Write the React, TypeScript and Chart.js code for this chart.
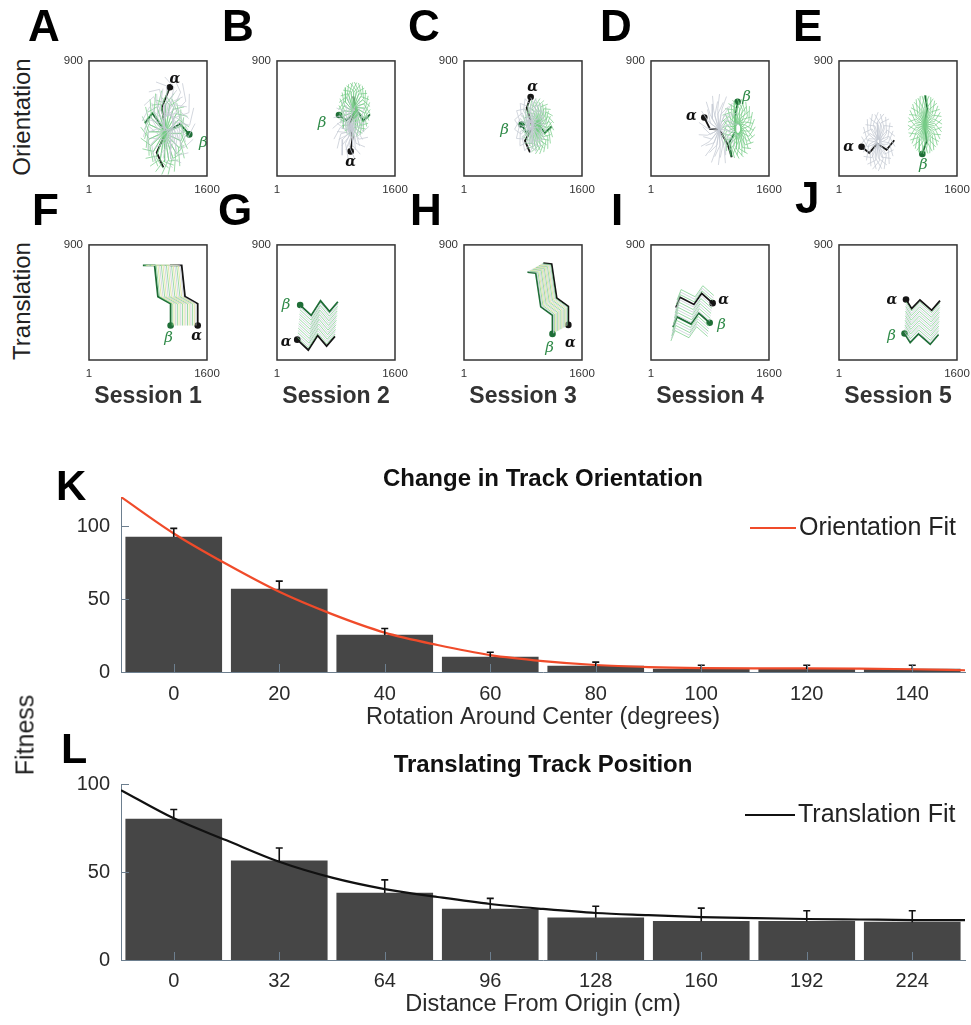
import React, { useEffect, useRef } from 'react';
import { Chart, registerables } from 'chart.js';

Chart.register(...registerables);

type Pt = [number, number];

const FONT = '"Liberation Sans", Arial, Helvetica, sans-serif';
const SERIF = '"DejaVu Serif", "Liberation Serif", serif';

// ---------------- small track panels ----------------
const PANEL_X_TICKS = [1, 1600];
const PANEL_Y_TICKS = [900];
const PANEL_X_MAX = 1600;
const PANEL_Y_MAX = 900;

// Orientation panels (A-E): alpha (black) and beta (green) tracks, fan centres
const A_ALPHA: Pt[] = [[1098, 694], [986, 534], [1044, 343], [918, 185], [1008, 69]];
const A_BETA: Pt[] = [[1360, 326], [1234, 407], [1044, 343], [858, 491], [759, 412]];
const A_GRAY_CENTER: Pt = [1080, 420];
const A_GREEN_CENTER: Pt = [1030, 340];

const B_ALPHA: Pt[] = [[999, 193], [1026, 305], [981, 402], [1071, 504], [1035, 623]];
const B_BETA: Pt[] = [[841, 478], [945, 435], [1080, 516], [1171, 432], [1261, 483]];
const B_GRAY_CENTER: Pt = [1000, 380];
const B_GREEN_CENTER: Pt = [1050, 520];

const C_ALPHA: Pt[] = [[904, 618], [850, 534], [931, 382], [827, 275], [895, 186]];
const C_BETA: Pt[] = [[782, 402], [850, 338], [986, 414], [1098, 338], [1189, 389]];
const C_GRAY_CENTER: Pt = [900, 400];
const C_GREEN_CENTER: Pt = [1000, 390];

const D_ALPHA: Pt[] = [[723, 458], [800, 369], [927, 364], [1040, 249], [1094, 147]];
const D_BETA: Pt[] = [[1175, 580], [1143, 465], [1143, 351], [1062, 262], [1094, 153]];
const D_GRAY_CENTER: Pt = [922, 364];
const D_GREEN_CENTER: Pt = [1180, 371];

const E_ALPHA: Pt[] = [[307, 229], [411, 181], [520, 254], [646, 206], [750, 280]];
const E_BETA: Pt[] = [[1130, 173], [1189, 275], [1157, 402], [1198, 529], [1166, 631]];
const E_GRAY_CENTER: Pt = [533, 270];
const E_GREEN_CENTER: Pt = [1166, 402];

const GRAY_ANGLES = [20, 40, 60, 80, 100, 120, 140, 160, 180, 200, 220, 240, 260, 280, 300, 320, 340];
const GREEN_ANGLES = [10, 25, 40, 55, 70, 85, 100, 115, 130, 145, 160, 175, 190, 205, 220, 235, 250, 265, 280, 295, 310, 325, 340, 355];

// Translation panels (F-J): alpha track, final shift to beta, intermediate shifts
const F_ALPHA: Pt[] = [[1474, 270], [1474, 440], [1302, 496], [1257, 740], [1098, 740]];
const F_BETA_SHIFT: Pt = [-367, 0];
const F_SHIFTS: Pt[] = [[-23, 0], [-46, 0], [-69, 0], [-92, 0], [-115, 0], [-138, 0], [-161, 0], [-184, 0], [-207, 0], [-230, 0], [-253, 0], [-276, 0], [-299, 0], [-322, 0], [-345, 0]];

const G_ALPHA: Pt[] = [[275, 160], [425, 79], [551, 193], [673, 109], [786, 186]];
const G_BETA_SHIFT: Pt = [40, 270];
const G_SHIFTS: Pt[] = [[3, 18], [6, 36], [9, 54], [11, 72], [14, 90], [17, 108], [20, 126], [23, 144], [26, 162], [29, 180], [31, 198], [34, 216], [37, 234], [40, 252]];

const H_ALPHA: Pt[] = [[1415, 275], [1415, 420], [1257, 486], [1189, 750], [1076, 758]];
const H_BETA_SHIFT: Pt = [-215, -70];
const H_SHIFTS: Pt[] = [[-14, -5], [-29, -9], [-43, -14], [-57, -19], [-72, -23], [-86, -28], [-100, -33], [-115, -37], [-129, -42], [-143, -47], [-158, -51], [-172, -56], [-186, -61], [-201, -65]];

const I_ALPHA: Pt[] = [[836, 445], [687, 521], [583, 435], [393, 491], [339, 410]];
const I_BETA_SHIFT: Pt = [-40, -153];
const I_SHIFTS: Pt[] = [[16, 60], [10, 40], [5, 20], [-5, -20], [-10, -40], [-16, -60], [-21, -80], [-26, -100], [-31, -120], [-37, -140], [-47, -180], [-52, -200], [-57, -220], [-63, -240], [-68, -260]];

const J_ALPHA: Pt[] = [[909, 473], [986, 402], [1098, 470], [1257, 389], [1370, 465]];
const J_BETA_SHIFT: Pt = [-20, -265];
const J_SHIFTS: Pt[] = [[-1, -18], [-3, -36], [-4, -54], [-5, -72], [-7, -90], [-8, -108], [-9, -126], [-11, -144], [-12, -162], [-13, -180], [-15, -198], [-16, -216], [-17, -234], [-19, -252]];

// ---------------- bar charts ----------------
const K_CATEGORIES = [0, 20, 40, 60, 80, 100, 120, 140];
const K_MEANS = [92.5, 56.8, 25.3, 10.3, 4.1, 2, 2, 2];
const K_ERRORS = [6, 5.5, 4.5, 3.2, 2.7, 2.6, 2.6, 2.6];
const K_FIT_X = [-10, 0, 10, 20, 30, 40, 50, 60, 70, 80, 90, 100, 110, 120, 130, 140, 150];
const K_FIT_Y = [120, 95, 74, 55, 39.7, 27, 18.5, 11.6, 7.5, 4.8, 3.4, 2.7, 2.5, 2.5, 2.3, 1.9, 1.2];
const K_Y_TICKS = [0, 50, 100];

const L_CATEGORIES = [0, 32, 64, 96, 128, 160, 192, 224];
const L_MEANS = [80, 56.3, 38, 29, 24, 22, 22, 21.5];
const L_ERRORS = [5.5, 7.3, 7.5, 6, 6.5, 7.5, 6, 6.5];
const L_FIT_X = [-16, 0, 16, 32, 48, 64, 80, 96, 112, 128, 144, 160, 176, 192, 208, 224, 240];
const L_FIT_Y = [96.5, 80.5, 68, 55.8, 46.8, 40.3, 35.8, 31.8, 29, 26.7, 25.5, 24.4, 23.8, 23.3, 23, 22.7, 22.6];
const L_Y_TICKS = [0, 50, 100];

// ---------------- helpers ----------------
function rotateTrack(track: Pt[], c: Pt, deg: number): Pt[] {
  const r = (deg * Math.PI) / 180;
  const cs = Math.cos(r);
  const sn = Math.sin(r);
  return track.map(([x, y]) => [
    c[0] + (x - c[0]) * cs - (y - c[1]) * sn,
    c[1] + (x - c[0]) * sn + (y - c[1]) * cs,
  ]);
}
function shiftTrack(track: Pt[], d: Pt): Pt[] {
  return track.map(([x, y]) => [x + d[0], y + d[1]]);
}

const COPY_GRAY = 'rgba(196,201,211,0.75)';
const COPY_GREEN = 'rgba(118,204,134,0.72)';
const COPY_YELLOW = 'rgba(222,228,160,0.9)';
const TRACK_BLACK = '#151515';
const TRACK_GREEN = '#1f6e37';

interface Panel {
  letter: string;
  col: number;
  row: number;
  alpha: Pt[];
  beta: Pt[];
  copies: { pts: Pt[]; color: string }[];
  alphaOff: Pt;
  betaOff: Pt;
}

function orientPanel(letter: string, col: number, alpha: Pt[], beta: Pt[], gc: Pt, ec: Pt, alphaOff: Pt, betaOff: Pt): Panel {
  const copies = [
    ...GRAY_ANGLES.map((a) => ({ pts: rotateTrack(alpha, gc, a), color: COPY_GRAY })),
    ...GREEN_ANGLES.map((a) => ({ pts: rotateTrack(beta, ec, a), color: COPY_GREEN })),
  ];
  return { letter, col, row: 0, alpha, beta, copies, alphaOff, betaOff };
}
function transPanel(letter: string, col: number, alpha: Pt[], final: Pt, shifts: Pt[], palette: string[], alphaOff: Pt, betaOff: Pt): Panel {
  const copies = shifts.map((d, i) => ({ pts: shiftTrack(alpha, d), color: palette[i % palette.length] }));
  return { letter, col, row: 1, alpha, beta: shiftTrack(alpha, final), copies, alphaOff, betaOff };
}

const PANELS: Panel[] = [
  orientPanel('A', 0, A_ALPHA, A_BETA, A_GRAY_CENTER, A_GREEN_CENTER, [5, -8], [14, 9]),
  orientPanel('B', 1, B_ALPHA, B_BETA, B_GRAY_CENTER, B_GREEN_CENTER, [0, 11], [-17, 8]),
  orientPanel('C', 2, C_ALPHA, C_BETA, C_GRAY_CENTER, C_GREEN_CENTER, [2, -10], [-17, 5]),
  orientPanel('D', 3, D_ALPHA, D_BETA, D_GRAY_CENTER, D_GREEN_CENTER, [-13, -1], [9, -5]),
  orientPanel('E', 4, E_ALPHA, E_BETA, E_GRAY_CENTER, E_GREEN_CENTER, [-13, 1], [1, 11]),
  transPanel('F', 0, F_ALPHA, F_BETA_SHIFT, F_SHIFTS, [COPY_GRAY, COPY_YELLOW, COPY_GREEN], [-1, 11], [-2, 13]),
  transPanel('G', 1, G_ALPHA, G_BETA_SHIFT, G_SHIFTS, [COPY_GREEN, COPY_GRAY], [-11, 3], [-14, 0]),
  transPanel('H', 2, H_ALPHA, H_BETA_SHIFT, H_SHIFTS, [COPY_GREEN, COPY_GRAY, COPY_YELLOW], [2, 18], [-3, 14]),
  transPanel('I', 3, I_ALPHA, I_BETA_SHIFT, I_SHIFTS, [COPY_GREEN, COPY_GRAY], [11, -3], [12, 2]),
  transPanel('J', 4, J_ALPHA, J_BETA_SHIFT, J_SHIFTS, [COPY_GREEN, COPY_GRAY], [-14, 1], [-13, 3]),
];

const COL_LEFT = [89, 277, 464, 651, 839];
const ROW_TOP = [58, 242];
const BOX = 118;
const PAD_L = 40;
const PAD_T = 10;
const PAD_R = 24;
const PAD_B = 30;

function TrackChart({ panel }: { panel: Panel }) {
  const ref = useRef<HTMLCanvasElement>(null);
  useEffect(() => {
    if (!ref.current) return;
    const toXY = (pts: Pt[]) => pts.map(([x, y]) => ({ x, y }));
    const datasets: any[] = panel.copies.map((c) => ({
      data: toXY(c.pts),
      borderColor: c.color,
      borderWidth: 1,
      pointRadius: 0,
      showLine: true,
      fill: false,
    }));
    const endRadius = (pts: Pt[]) => pts.map((_, i) => (i === 0 ? 3.3 : 0));
    datasets.push({
      data: toXY(panel.beta),
      borderColor: TRACK_GREEN,
      backgroundColor: TRACK_GREEN,
      pointBackgroundColor: TRACK_GREEN,
      pointBorderWidth: 0,
      borderWidth: 1.8,
      pointRadius: endRadius(panel.beta),
      showLine: true,
    });
    datasets.push({
      data: toXY(panel.alpha),
      borderColor: TRACK_BLACK,
      backgroundColor: TRACK_BLACK,
      pointBackgroundColor: TRACK_BLACK,
      pointBorderWidth: 0,
      borderWidth: 1.8,
      pointRadius: endRadius(panel.alpha),
      showLine: true,
    });
    const boxPlugin = {
      id: 'box',
      afterDraw(chart: any) {
        const { ctx, chartArea: a } = chart;
        ctx.save();
        ctx.strokeStyle = '#333333';
        ctx.lineWidth = 1.5;
        ctx.strokeRect(a.left, a.top, a.right - a.left, a.bottom - a.top);
        ctx.restore();
      },
    };
    const greekPlugin = {
      id: 'greek',
      afterDatasetsDraw(chart: any) {
        const { ctx, scales } = chart;
        const put = (p: Pt, off: Pt, txt: string, color: string, font: string) => {
          const x = scales.x.getPixelForValue(p[0]) + off[0];
          const y = scales.y.getPixelForValue(p[1]) + off[1];
          ctx.save();
          ctx.font = font;
          ctx.fillStyle = color;
          ctx.textAlign = 'center';
          ctx.textBaseline = 'middle';
          ctx.fillText(txt, x, y);
          ctx.restore();
        };
        put(panel.alpha[0], panel.alphaOff, 'α', '#111111', `bold italic 14px ${SERIF}`);
        put(panel.beta[0], panel.betaOff, 'β', '#2f8a48', `italic 15px ${SERIF}`);
      },
    };
    const chart = new Chart(ref.current, {
      type: 'scatter',
      data: { datasets },
      options: {
        responsive: false,
        animation: false,
        devicePixelRatio: 1,
        events: [],
        layout: { padding: { top: PAD_T, right: PAD_R, left: 0, bottom: 0 } },
        plugins: { legend: { display: false }, tooltip: { enabled: false }, title: { display: false } },
        scales: {
          x: {
            type: 'linear',
            min: 1,
            max: PANEL_X_MAX,
            grid: { display: false, drawTicks: false },
            border: { display: false },
            ticks: {
              color: '#333333',
              font: { family: FONT, size: 11.5 },
              padding: 7,
              maxRotation: 0,
              minRotation: 0,
              autoSkip: false,
              callback: (v: any) => String(v),
            },
            afterBuildTicks: (s: any) => {
              s.ticks = PANEL_X_TICKS.map((v) => ({ value: v }));
            },
            afterFit: (s: any) => {
              s.height = PAD_B;
            },
          },
          y: {
            type: 'linear',
            min: 1,
            max: PANEL_Y_MAX,
            grid: { display: false, drawTicks: false },
            border: { display: false },
            ticks: {
              color: '#333333',
              font: { family: FONT, size: 11.5 },
              padding: 6,
              autoSkip: false,
              callback: (v: any) => String(v),
            },
            afterBuildTicks: (s: any) => {
              s.ticks = PANEL_Y_TICKS.map((v) => ({ value: v }));
            },
            afterFit: (s: any) => {
              s.width = PAD_L;
            },
          },
        },
      } as any,
      plugins: [boxPlugin, greekPlugin],
    });
    return () => chart.destroy();
  }, [panel]);
  const left = COL_LEFT[panel.col] - PAD_L;
  const top = ROW_TOP[panel.row] - PAD_T;
  return (
    <canvas
      ref={ref}
      width={PAD_L + BOX + PAD_R}
      height={PAD_T + BOX + PAD_B}
      style={{ position: 'absolute', left, top, width: PAD_L + BOX + PAD_R, height: PAD_T + BOX + PAD_B, display: 'block' }}
    />
  );
}

// ---------------- bar + fit charts ----------------
const AXIS = '#6d7f8f';
const BAR = '#464646';
const TITLE_SIZE = 24;
const TICK_SIZE = 20;
const XTITLE_SIZE = 23.5;
const LEGEND_SIZE = 25;

interface BarCfg {
  top: number;
  height: number;
  categories: number[];
  means: number[];
  errors: number[];
  fitX: number[];
  fitY: number[];
  fitColor: string;
  fitLabel: string;
  title: string;
  xTitle: string;
  xMin: number;
  xMax: number;
  yMax: number;
  yTicks: number[];
  areaTop: number;
  titlePadTop: number;
  xScaleHeight: number;
  tickPad: number;
  xTitlePadBottom: number;
  legendY: number;
  legendX0: number;
  legendX1: number;
}

function BarFitChart({ cfg }: { cfg: BarCfg }) {
  const ref = useRef<HTMLCanvasElement>(null);
  useEffect(() => {
    if (!ref.current) return;
    const titleLH = TITLE_SIZE * 1.2;
    const errPlugin = {
      id: 'err',
      afterDatasetsDraw(chart: any) {
        const { ctx, scales } = chart;
        ctx.save();
        ctx.strokeStyle = '#111111';
        ctx.lineWidth = 1.6;
        cfg.categories.forEach((c, i) => {
          const x = scales.x.getPixelForValue(c);
          const y1 = scales.y.getPixelForValue(cfg.means[i]);
          const y2 = scales.y.getPixelForValue(cfg.means[i] + cfg.errors[i]);
          ctx.beginPath();
          ctx.moveTo(x, y1);
          ctx.lineTo(x, y2);
          ctx.moveTo(x - 3.5, y2);
          ctx.lineTo(x + 3.5, y2);
          ctx.stroke();
        });
        ctx.restore();
      },
    };
    const tickPlugin = {
      id: 'inticks',
      afterDraw(chart: any) {
        const { ctx, scales, chartArea: a } = chart;
        ctx.save();
        ctx.strokeStyle = AXIS;
        ctx.lineWidth = 1;
        cfg.yTicks.forEach((v) => {
          const y = Math.round(scales.y.getPixelForValue(v)) + 0.5;
          ctx.beginPath();
          ctx.moveTo(a.left, y);
          ctx.lineTo(a.left + 8, y);
          ctx.stroke();
        });
        cfg.categories.forEach((c) => {
          const x = Math.round(scales.x.getPixelForValue(c)) + 0.5;
          ctx.beginPath();
          ctx.moveTo(x, a.bottom);
          ctx.lineTo(x, a.bottom - 8);
          ctx.stroke();
        });
        ctx.restore();
      },
    };
    const legendPlugin = {
      id: 'fitlegend',
      afterDraw(chart: any) {
        const { ctx } = chart;
        const ds = chart.data.datasets[0];
        ctx.save();
        ctx.strokeStyle = ds.borderColor;
        ctx.lineWidth = 2.2;
        ctx.beginPath();
        ctx.moveTo(cfg.legendX0, cfg.legendY);
        ctx.lineTo(cfg.legendX1, cfg.legendY);
        ctx.stroke();
        ctx.fillStyle = '#222222';
        ctx.font = `${LEGEND_SIZE}px ${FONT}`;
        ctx.textAlign = 'left';
        ctx.textBaseline = 'middle';
        ctx.fillText(ds.label, cfg.legendX1 + 3, cfg.legendY);
        ctx.restore();
      },
    };
    const chart = new Chart(ref.current, {
      type: 'bar',
      data: {
        datasets: [
          {
            type: 'line',
            label: cfg.fitLabel,
            data: cfg.fitX.map((x, i) => ({ x, y: cfg.fitY[i] })),
            borderColor: cfg.fitColor,
            borderWidth: 2.2,
            pointRadius: 0,
            tension: 0.4,
            cubicInterpolationMode: 'monotone',
            order: 0,
          } as any,
          {
            type: 'bar',
            label: 'Fitness',
            data: cfg.categories.map((c, i) => ({ x: c, y: cfg.means[i] })),
            backgroundColor: BAR,
            barThickness: 96,
            order: 1,
          } as any,
        ],
      },
      options: {
        responsive: false,
        animation: false,
        devicePixelRatio: 1,
        events: [],
        layout: { padding: { left: 0, right: 6, top: 0, bottom: 0 } },
        plugins: {
          legend: { display: false },
          tooltip: { enabled: false },
          title: {
            display: true,
            fullSize: false,
            text: cfg.title,
            color: '#111111',
            font: { family: FONT, size: TITLE_SIZE, weight: 'bold' },
            padding: { top: cfg.titlePadTop, bottom: cfg.areaTop - cfg.titlePadTop - titleLH },
          },
        },
        scales: {
          x: {
            type: 'linear',
            min: cfg.xMin,
            max: cfg.xMax,
            offset: false,
            grid: { display: false, drawTicks: false, offset: false },
            border: { display: true, color: AXIS, width: 1 },
            ticks: {
              color: '#2a2a2a',
              font: { family: FONT, size: TICK_SIZE },
              padding: cfg.tickPad,
              maxRotation: 0,
              autoSkip: false,
              callback: (v: any) => String(v),
            },
            afterBuildTicks: (s: any) => {
              s.ticks = cfg.categories.map((v) => ({ value: v }));
            },
            afterFit: (s: any) => {
              s.height = cfg.xScaleHeight;
            },
            title: {
              display: true,
              text: cfg.xTitle,
              color: '#2a2a2a',
              font: { family: FONT, size: XTITLE_SIZE },
              padding: { top: 0, bottom: cfg.xTitlePadBottom },
            },
          },
          y: {
            type: 'linear',
            min: 0,
            max: cfg.yMax,
            grid: { display: false, drawTicks: false },
            border: { display: true, color: AXIS, width: 1 },
            ticks: {
              color: '#2a2a2a',
              font: { family: FONT, size: TICK_SIZE },
              padding: 11,
              autoSkip: false,
              callback: (v: any) => String(v),
            },
            afterBuildTicks: (s: any) => {
              s.ticks = cfg.yTicks.map((v) => ({ value: v }));
            },
            afterFit: (s: any) => {
              s.width = 121;
            },
          },
        },
      } as any,
      plugins: [errPlugin, tickPlugin, legendPlugin],
    });
    return () => chart.destroy();
  }, [cfg]);
  return (
    <canvas
      ref={ref}
      width={971}
      height={cfg.height}
      style={{ position: 'absolute', left: 0, top: cfg.top, width: 971, height: cfg.height, display: 'block' }}
    />
  );
}

const K_CFG: BarCfg = {
  top: 455,
  height: 290,
  categories: K_CATEGORIES,
  means: K_MEANS,
  errors: K_ERRORS,
  fitX: K_FIT_X,
  fitY: K_FIT_Y,
  fitColor: '#f04b2a',
  fitLabel: 'Orientation Fit',
  title: 'Change in Track Orientation',
  xTitle: 'Rotation Around Center (degrees)',
  xMin: -10,
  xMax: 150,
  yMax: 120,
  yTicks: K_Y_TICKS,
  areaTop: 42,
  titlePadTop: 10,
  xScaleHeight: 73,
  tickPad: 10,
  xTitlePadBottom: 13,
  legendY: 73,
  legendX0: 750,
  legendX1: 796,
};

const L_CFG: BarCfg = {
  top: 740,
  height: 285,
  categories: L_CATEGORIES,
  means: L_MEANS,
  errors: L_ERRORS,
  fitX: L_FIT_X,
  fitY: L_FIT_Y,
  fitColor: '#111111',
  fitLabel: 'Translation Fit',
  title: 'Translating Track Position',
  xTitle: 'Distance From Origin (cm)',
  xMin: -16,
  xMax: 240,
  yMax: 100,
  yTicks: L_Y_TICKS,
  areaTop: 44,
  titlePadTop: 11,
  xScaleHeight: 65,
  tickPad: 9,
  xTitlePadBottom: 6,
  legendY: 75,
  legendX0: 745,
  legendX1: 795,
};

// ---------------- page ----------------
const letterStyle = (x: number, capTop: number, size: number): React.CSSProperties => ({
  position: 'absolute',
  left: x,
  top: capTop - 0.1305 * size,
  fontFamily: FONT,
  fontWeight: 'bold',
  fontSize: size,
  lineHeight: `${size}px`,
  color: '#000',
});

const LETTER_POS: { [k: string]: [number, number] } = {
  A: [28, 10], B: [222, 10], C: [408, 10], D: [600, 10], E: [793, 10],
  F: [32, 194], G: [218, 194], H: [410, 194], I: [611, 194], J: [795, 182],
};

const SESSIONS = ['Session 1', 'Session 2', 'Session 3', 'Session 4', 'Session 5'];

function rotLabel(text: string, cx: number, cy: number, size: number): JSX.Element {
  return (
    <div
      key={text}
      style={{
        position: 'absolute',
        left: cx,
        top: cy,
        transform: 'translate(-50%, -50%) rotate(-90deg)',
        fontFamily: FONT,
        fontSize: size,
        lineHeight: `${size}px`,
        whiteSpace: 'nowrap',
        color: '#222',
      }}
    >
      {text}
    </div>
  );
}

export default function App() {
  return (
    <div style={{ position: 'absolute', left: 0, top: 0, width: 971, height: 1025, background: '#ffffff', overflow: 'hidden' }}>
      {PANELS.map((p) => (
        <TrackChart key={p.letter} panel={p} />
      ))}
      {PANELS.map((p) => (
        <div key={'l' + p.letter} style={letterStyle(LETTER_POS[p.letter][0], LETTER_POS[p.letter][1], 44)}>
          {p.letter}
        </div>
      ))}
      {rotLabel('Orientation', 22, 117, 24)}
      {rotLabel('Translation', 22, 301, 24)}
      {SESSIONS.map((s, i) => (
        <div
          key={s}
          style={{
            position: 'absolute',
            left: COL_LEFT[i] + BOX / 2,
            top: 387 - 0.1305 * 23,
            transform: 'translateX(-50%)',
            fontFamily: FONT,
            fontWeight: 'bold',
            fontSize: 23,
            lineHeight: '23px',
            whiteSpace: 'nowrap',
            color: '#333',
          }}
        >
          {s}
        </div>
      ))}
      <BarFitChart cfg={K_CFG} />
      <BarFitChart cfg={L_CFG} />
      <div style={letterStyle(56, 470, 42)}>K</div>
      <div style={letterStyle(61, 733, 43)}>L</div>
      {rotLabel('Fitness', 25, 735, 25)}
    </div>
  );
}
